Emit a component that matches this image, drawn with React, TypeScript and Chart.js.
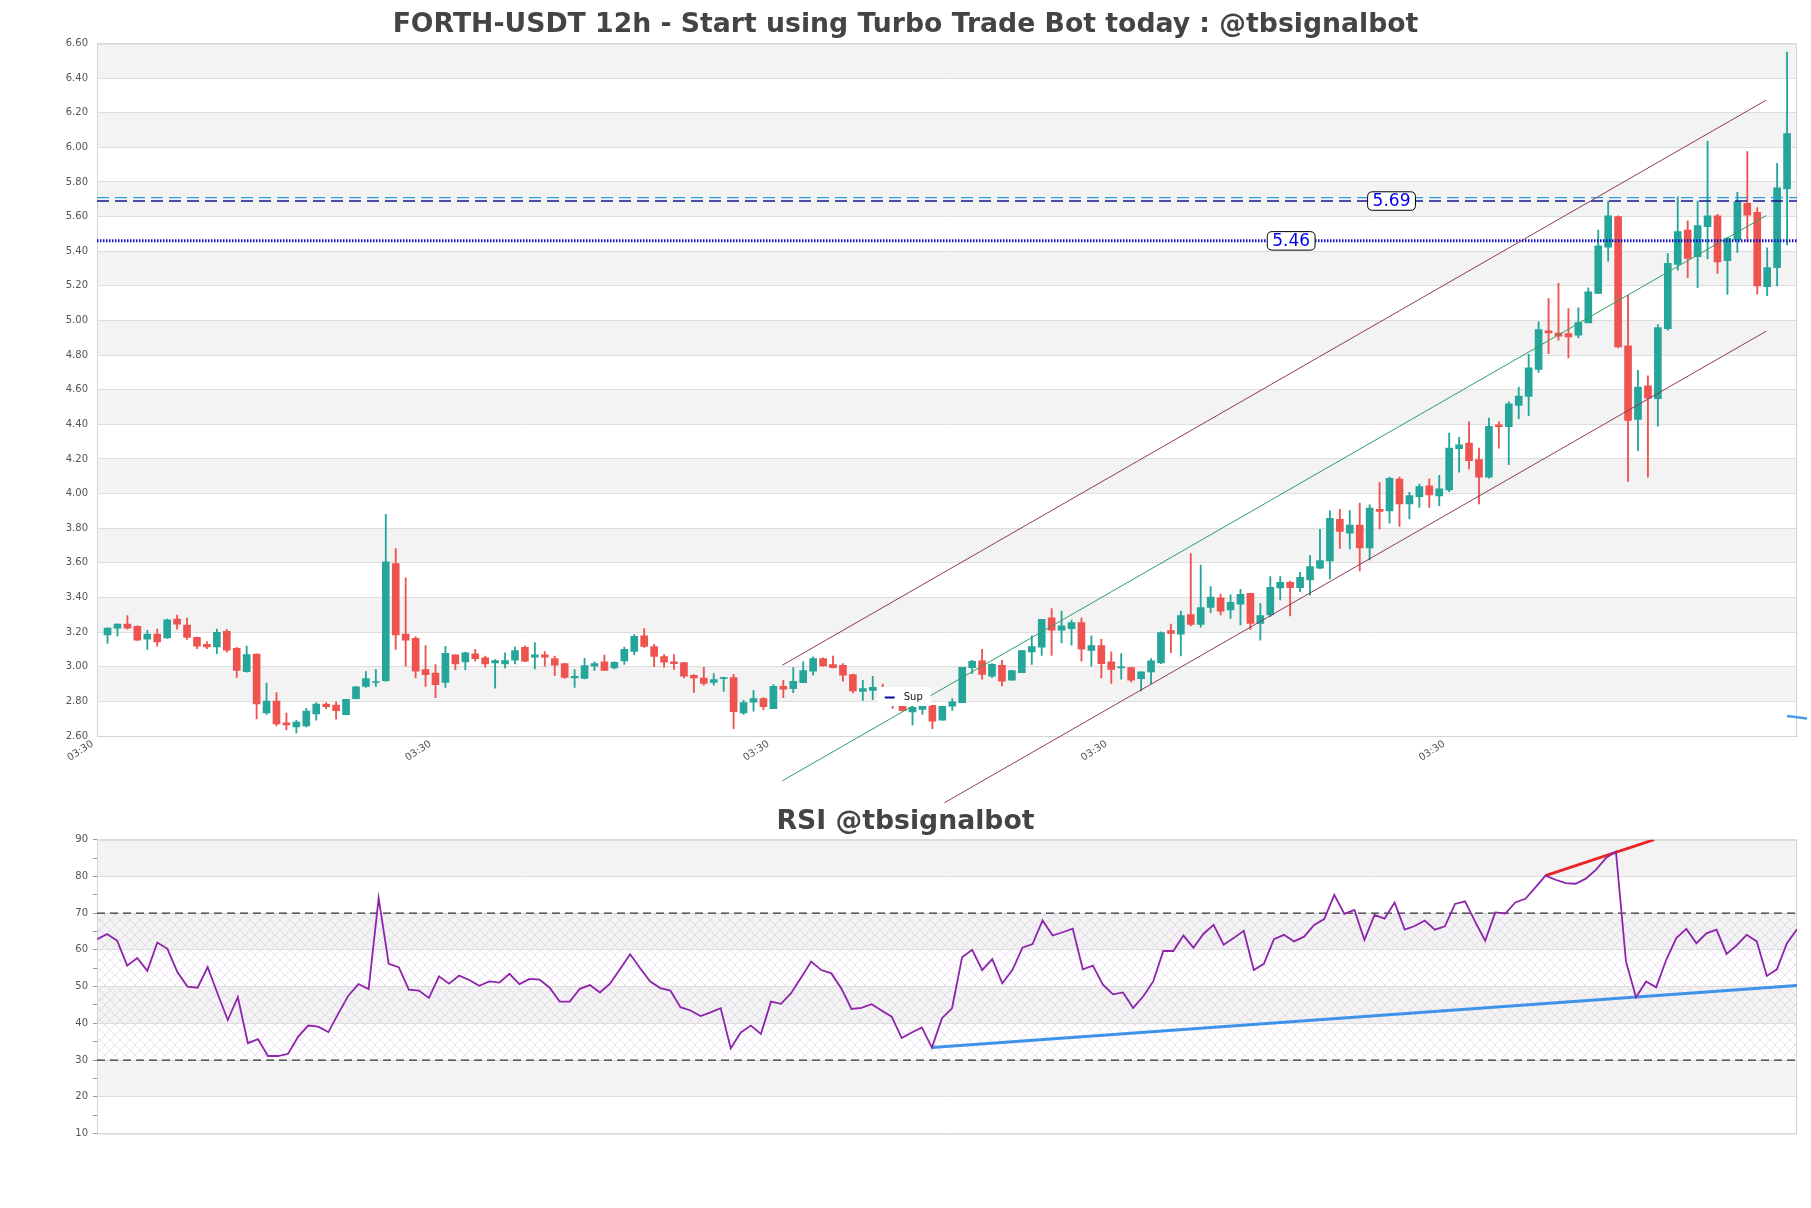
import React, { useEffect, useRef } from "react";
import { Chart, registerables } from "chart.js";

Chart.register(...registerables);

const TITLE = "FORTH-USDT 12h - Start using Turbo Trade Bot today : @tbsignalbot";
const RSI_TITLE = "RSI @tbsignalbot";

const opens = [3.184,3.223,3.246,3.234,3.160,3.188,3.166,3.275,3.240,3.170,
3.129,3.114,3.205,3.106,2.972,3.073,2.734,2.802,2.676,2.653,
2.658,2.728,2.785,2.779,2.723,2.816,2.886,2.909,2.919,3.596,
3.188,3.164,2.983,2.964,2.909,3.069,3.028,3.075,3.051,3.022,
3.016,3.038,3.112,3.055,3.069,3.047,3.018,2.935,2.933,3.003,
3.028,2.993,3.033,3.089,3.178,3.116,3.059,3.028,3.024,2.951,
2.935,2.910,2.931,2.937,2.733,2.795,2.816,2.758,2.887,2.874,
2.908,2.974,3.047,3.012,3.008,2.955,2.858,2.864,2.878,2.862,
2.773,2.739,2.754,2.777,2.691,2.773,2.793,2.995,3.034,2.945,
3.008,2.922,2.966,3.086,3.113,3.282,3.211,3.220,3.255,3.095,
3.122,3.028,2.993,2.995,2.931,2.970,3.022,3.209,3.188,3.301,
3.244,3.342,3.398,3.328,3.362,3.424,3.251,3.299,3.455,3.488,
3.457,3.501,3.569,3.611,3.852,3.771,3.818,3.686,3.910,3.900,
4.084,3.941,3.983,4.045,3.987,4.022,4.259,4.292,4.196,4.095,
4.398,4.387,4.510,4.562,4.718,4.940,4.928,4.925,4.915,4.986,
5.156,5.424,5.600,4.853,4.429,4.622,4.549,4.953,5.324,5.523,
5.368,5.542,5.605,5.345,5.465,5.677,5.625,5.195,5.305,5.760];

const closes = [3.223,3.246,3.223,3.154,3.188,3.143,3.271,3.246,3.170,3.119,
3.114,3.199,3.096,2.979,3.071,2.785,2.802,2.670,2.664,2.680,
2.744,2.785,2.769,2.746,2.812,2.884,2.931,2.913,3.606,3.184,
3.154,2.974,2.954,2.896,3.077,3.016,3.081,3.046,3.016,3.036,
3.036,3.094,3.032,3.069,3.055,3.009,2.939,2.944,3.007,3.018,
2.979,3.026,3.101,3.176,3.118,3.060,3.026,3.018,2.945,2.935,
2.903,2.926,2.937,2.741,2.793,2.816,2.770,2.887,2.870,2.916,
2.978,3.047,3.005,2.995,2.951,2.860,2.874,2.881,2.862,2.780,
2.746,2.766,2.777,2.685,2.771,2.797,2.997,3.032,2.955,3.014,
2.916,2.978,3.093,3.116,3.274,3.211,3.236,3.255,3.101,3.122,
3.018,2.985,2.999,2.922,2.970,3.034,3.197,3.193,3.296,3.244,
3.342,3.403,3.321,3.372,3.418,3.251,3.295,3.459,3.488,3.457,
3.517,3.578,3.613,3.858,3.781,3.818,3.686,3.916,3.897,4.089,
3.941,3.989,4.041,3.993,4.028,4.263,4.282,4.190,4.095,4.388,
4.387,4.518,4.564,4.726,4.948,4.928,4.909,4.905,4.988,5.166,
5.432,5.605,4.847,4.423,4.616,4.552,4.959,5.330,5.513,5.359,
5.548,5.605,5.339,5.474,5.686,5.609,5.200,5.305,5.767,6.080];

const highs = [3.225,3.248,3.295,3.236,3.211,3.217,3.275,3.298,3.281,3.172,
3.145,3.217,3.215,3.112,3.119,3.075,2.905,2.851,2.732,2.691,
2.760,2.793,2.793,2.798,2.812,2.886,2.972,2.983,3.880,3.683,
3.514,3.174,3.123,3.012,3.118,3.069,3.085,3.100,3.061,3.042,
3.081,3.114,3.121,3.139,3.088,3.061,3.020,2.983,3.048,3.028,
3.067,3.028,3.114,3.186,3.220,3.130,3.070,3.070,3.026,2.955,
2.997,2.960,2.941,2.956,2.806,2.864,2.822,2.897,2.922,2.995,
3.028,3.057,3.051,3.062,3.018,2.957,2.922,2.945,2.900,2.870,
2.777,2.771,2.777,2.777,2.771,2.816,2.997,3.037,3.101,3.018,
3.037,2.978,3.093,3.178,3.274,3.336,3.321,3.269,3.282,3.178,
3.159,3.086,3.076,2.995,2.970,3.047,3.201,3.247,3.321,3.654,
3.587,3.463,3.420,3.415,3.447,3.424,3.366,3.521,3.521,3.495,
3.546,3.642,3.794,3.900,3.910,3.902,3.945,3.935,4.064,4.095,
4.095,4.007,4.055,4.086,4.105,4.350,4.325,4.414,4.263,4.437,
4.414,4.530,4.616,4.805,4.992,5.127,5.214,5.069,5.073,5.189,
5.522,5.690,5.605,5.146,4.712,4.680,4.977,5.387,5.715,5.575,
5.690,6.037,5.613,5.480,5.740,5.976,5.652,5.420,5.908,6.550];

const lows = [3.135,3.178,3.217,3.152,3.100,3.119,3.164,3.217,3.158,3.104,
3.104,3.075,3.084,2.939,2.968,2.699,2.724,2.658,2.635,2.618,
2.653,2.691,2.756,2.697,2.723,2.814,2.880,2.886,2.915,3.100,
3.003,2.935,2.886,2.822,2.880,2.983,2.983,3.032,2.997,2.876,
2.993,3.016,3.030,2.987,3.003,2.950,2.933,2.880,2.929,2.979,
2.979,2.987,3.014,3.070,3.111,3.001,2.997,2.985,2.935,2.852,
2.893,2.893,2.858,2.642,2.725,2.743,2.752,2.758,2.822,2.850,
2.908,2.951,3.003,2.993,2.916,2.849,2.806,2.810,2.840,2.760,
2.743,2.662,2.725,2.642,2.691,2.748,2.793,2.960,2.928,2.937,
2.889,2.922,2.966,3.014,3.066,3.066,3.138,3.124,3.032,3.003,
2.935,2.904,2.928,2.912,2.860,2.902,3.018,3.082,3.062,3.236,
3.228,3.313,3.300,3.279,3.241,3.216,3.154,3.289,3.386,3.293,
3.434,3.414,3.565,3.507,3.684,3.681,3.553,3.617,3.796,3.829,
3.810,3.854,3.920,3.920,3.931,4.012,4.124,4.143,3.941,4.089,
4.263,4.167,4.433,4.450,4.700,4.809,4.886,4.784,4.900,4.992,
5.156,5.343,4.842,4.070,4.248,4.095,4.390,4.944,5.291,5.247,
5.189,5.355,5.272,5.150,5.393,5.455,5.152,5.143,5.200,5.436];

const rsiValues = [62.9,64.3,62.5,55.7,57.8,54.3,62.0,60.3,53.9,50.0,
49.7,55.3,48.0,40.9,47.1,34.6,35.7,31.1,31.1,31.7,
36.4,39.4,39.1,37.6,42.7,47.6,50.7,49.3,74.1,56.2,
55.3,49.2,48.9,46.9,52.8,50.8,53.0,51.8,50.2,51.4,
51.1,53.5,50.7,52.1,51.9,49.7,45.9,45.9,49.4,50.4,
48.4,50.8,54.8,58.8,55.0,51.4,49.6,48.9,44.4,43.5,
42.0,43.0,44.1,33.2,37.5,39.4,37.1,45.9,45.3,48.2,
52.5,56.8,54.5,53.6,49.5,43.9,44.2,45.2,43.5,41.8,
36.0,37.5,38.9,33.4,41.4,44.1,58.0,60.0,54.5,57.5,
50.9,54.5,60.6,61.6,68.0,63.9,64.8,65.8,54.7,55.7,
50.5,47.9,48.4,44.2,47.3,51.4,59.7,59.7,63.9,60.6,
64.4,66.8,61.4,63.2,65.2,54.5,56.2,62.9,64.1,62.3,
63.6,66.8,68.4,75.0,69.8,70.9,62.7,69.5,68.5,72.9,
65.5,66.5,68.0,65.5,66.4,72.5,73.2,67.7,62.5,70.2,
69.9,72.9,73.9,77.0,80.2,79.1,78.2,78.0,79.4,81.8,
85.0,86.8,56.8,47.1,51.4,49.8,57.3,63.2,65.7,61.8,
64.5,65.5,58.9,61.2,64.1,62.3,52.9,54.7,61.8,65.6];

const priceTicks = [2.6,2.8,3.0,3.2,3.4,3.6,3.8,4.0,4.2,4.4,4.6,4.8,5.0,5.2,5.4,5.6,5.8,6.0,6.2,6.4,6.6];
const rsiTicks = [10,15,20,25,30,35,40,45,50,55,60,65,70,75,80,85,90];
const timeTickPositions = [-1.5, 32.5, 66.5, 100.5, 134.5];
const timeTickLabels = ["03:30", "03:30", "03:30", "03:30", "03:30"];

const channelUpper = [{ x: 67.9, y: 3.009 }, { x: 166.9, y: 6.273 }];
const channelMiddle = [{ x: 67.9, y: 2.341 }, { x: 166.9, y: 5.606 }];
const channelLower = [{ x: 84.2, y: 2.214 }, { x: 166.9, y: 4.938 }];
const supSegment = [{ x: 169.0, y: 2.716 }, { x: 171.0, y: 2.701 }];

const levelLight = 5.71;
const levelNavy = 5.69;
const levelDotted = 5.46;
const levelLabels = [
  { text: "5.69", value: 5.69, at: 129.2 },
  { text: "5.46", value: 5.46, at: 119.1 },
];
const supLegendAnchor = { x: 77.5, y: 2.883, text: "Sup" };

const rsiSupport = [{ x: 83, y: 33.4 }, { x: 169, y: 50.3 }];
const rsiResistance = [{ x: 144, y: 80.2 }, { x: 154.8, y: 90 }];
const rsiUpper = 70;
const rsiLower = 30;

const X_MIN = -1.06;
const X_MAX = 170;
const GREEN = "#26a69a";
const RED = "#ef5350";
const BAND = "#f3f3f3";
const GRID = "#dedede";
const FONT = "DejaVu Sans";

const MAIN_H = 830;
const RSI_TOP = 790;
const RSI_H = 418;

const bandPlugin = {
  id: "bands",
  beforeDraw(chart: any) {
    const { ctx, chartArea } = chart;
    const ys = chart.scales.y;
    ctx.save();
    ctx.fillStyle = "#ffffff";
    ctx.fillRect(chartArea.left, chartArea.top, chartArea.right - chartArea.left, chartArea.bottom - chartArea.top);
    const vals: number[] = chart.options.bandValues;
    ctx.fillStyle = BAND;
    for (let k = 1; k < vals.length - 1; k += 2) {
      const a = ys.getPixelForValue(vals[k]);
      const b = ys.getPixelForValue(vals[k + 1]);
      ctx.fillRect(chartArea.left, Math.min(a, b), chartArea.right - chartArea.left, Math.abs(b - a));
    }
    const hatch = chart.options.hatch;
    if (hatch) {
      const a = ys.getPixelForValue(rsiUpper);
      const b = ys.getPixelForValue(rsiLower);
      ctx.fillStyle = hatch;
      ctx.fillRect(chartArea.left, a, chartArea.right - chartArea.left, b - a);
    }
    ctx.restore();
  },
  beforeDatasetsDraw(chart: any) {
    const { ctx, chartArea } = chart;
    ctx.save();
    ctx.strokeStyle = "#d4d4d4";
    ctx.lineWidth = 1;
    ctx.strokeRect(chartArea.left + 0.5, chartArea.top + 0.5, chartArea.right - chartArea.left - 1, chartArea.bottom - chartArea.top);
    ctx.restore();
  },
  afterDraw(chart: any) {
    const t = chart.options.titleSpec;
    if (!t) return;
    const { ctx } = chart;
    ctx.save();
    ctx.font = `bold ${t.size}px "${FONT}"`;
    ctx.fillStyle = "#444444";
    ctx.textAlign = "center";
    ctx.textBaseline = "middle";
    ctx.fillText(t.text, chart.width / 2, t.y);
    ctx.restore();
  },
};

function roundRect(ctx: CanvasRenderingContext2D, x: number, y: number, w: number, h: number, r: number) {
  ctx.beginPath();
  ctx.moveTo(x + r, y);
  ctx.lineTo(x + w - r, y);
  ctx.quadraticCurveTo(x + w, y, x + w, y + r);
  ctx.lineTo(x + w, y + h - r);
  ctx.quadraticCurveTo(x + w, y + h, x + w - r, y + h);
  ctx.lineTo(x + r, y + h);
  ctx.quadraticCurveTo(x, y + h, x, y + h - r);
  ctx.lineTo(x, y + r);
  ctx.quadraticCurveTo(x, y, x + r, y);
  ctx.closePath();
}

const annotationPlugin = {
  id: "annotations",
  afterDatasetsDraw(chart: any) {
    const { ctx } = chart;
    const xs = chart.scales.x;
    const ys = chart.scales.y;
    ctx.save();
    ctx.font = `17px "${FONT}"`;
    ctx.textAlign = "center";
    ctx.textBaseline = "middle";
    for (const l of levelLabels) {
      const cx = xs.getPixelForValue(l.at);
      const cy = ys.getPixelForValue(l.value);
      const w = ctx.measureText(l.text).width + 10;
      const h = 18.5;
      roundRect(ctx, cx - w / 2, cy - h / 2, w, h, 5);
      ctx.fillStyle = "#ffffff";
      ctx.fill();
      ctx.strokeStyle = "#000000";
      ctx.lineWidth = 1;
      ctx.stroke();
      ctx.fillStyle = "#0000ee";
      ctx.fillText(l.text, cx, cy + 1);
    }
    const lx = xs.getPixelForValue(supLegendAnchor.x);
    const ly = ys.getPixelForValue(supLegendAnchor.y);
    ctx.fillStyle = "#ffffff";
    ctx.fillRect(lx, ly, 53, 19);
    ctx.strokeStyle = "#0a0a9a";
    ctx.lineWidth = 2;
    ctx.beginPath();
    ctx.moveTo(lx + 7, ly + 10.5);
    ctx.lineTo(lx + 17, ly + 10.5);
    ctx.stroke();
    ctx.font = `10px "${FONT}"`;
    ctx.fillStyle = "#111111";
    ctx.textAlign = "left";
    ctx.fillText(supLegendAnchor.text, lx + 26, ly + 10);
    ctx.restore();
  },
};

function makeHatch(): CanvasPattern | string {
  const c = document.createElement("canvas");
  c.width = 10;
  c.height = 10;
  const g = c.getContext("2d");
  if (!g) return "rgba(200,170,220,0.2)";
  g.strokeStyle = "rgba(185,155,200,0.4)";
  g.lineWidth = 0.7;
  g.beginPath();
  g.moveTo(0, 0);
  g.lineTo(10, 10);
  g.moveTo(10, 0);
  g.lineTo(0, 10);
  g.stroke();
  return g.createPattern(c, "repeat") || "rgba(200,170,220,0.2)";
}

export default function App() {
  const mainRef = useRef<HTMLCanvasElement>(null);
  const rsiRef = useRef<HTMLCanvasElement>(null);

  useEffect(() => {
    if (!mainRef.current || !rsiRef.current) return;
    const idx = opens.map((_, i) => i);
    const colors = idx.map((i) => (closes[i] >= opens[i] ? GREEN : RED));
    const hLine = (v: number) => [{ x: X_MIN, y: v }, { x: X_MAX, y: v }];

    const main = new Chart(mainRef.current, {
      type: "bar",
      data: {
        datasets: [
          { type: "line", data: channelUpper, borderColor: "#8a3b5c", borderWidth: 1, pointRadius: 0, clip: false, order: 0 } as any,
          { type: "line", data: channelMiddle, borderColor: "#2e9e63", borderWidth: 1, pointRadius: 0, clip: false, order: 0 } as any,
          { type: "line", data: channelLower, borderColor: "#8a3b5c", borderWidth: 1, pointRadius: 0, clip: false, order: 0 } as any,
          { type: "line", data: hLine(levelLight), borderColor: "#2b9fe0", borderWidth: 1.3, borderDash: [12, 6], pointRadius: 0, order: 0 } as any,
          { type: "line", data: hLine(levelNavy), borderColor: "#16168f", borderWidth: 1.5, borderDash: [12, 6], pointRadius: 0, order: 0 } as any,
          { type: "line", data: hLine(levelDotted), borderColor: "#1010c8", borderWidth: 3, borderDash: [1.5, 1.5], pointRadius: 0, order: 0 } as any,
          { type: "line", data: supSegment, borderColor: "#4a9be8", borderWidth: 2.5, pointRadius: 0, clip: false, order: 0 } as any,
          {
            type: "bar",
            data: idx.map((i) => ({ x: i, y: [opens[i], closes[i]] })),
            backgroundColor: colors,
            borderWidth: 0,
            barThickness: 7,
            minBarLength: 1,
            grouped: false,
            order: 2,
          } as any,
          {
            type: "bar",
            data: idx.map((i) => ({ x: i, y: [lows[i], highs[i]] })),
            backgroundColor: colors,
            borderWidth: 0,
            barThickness: 1.2,
            grouped: false,
            order: 3,
          } as any,
        ],
      },
      options: {
        responsive: false,
        animation: false,
        bandValues: priceTicks,
        titleSpec: { text: TITLE, size: 26.7, y: 25.5 },
        layout: { padding: { left: 0, right: 14, top: 43.5, bottom: 0 } },
        plugins: {
          legend: { display: false },
          tooltip: { enabled: false },
          title: { display: false },
        },
        scales: {
          x: {
            type: "linear",
            min: X_MIN,
            max: X_MAX,
            offset: false,
            grid: { display: false, offset: false, drawTicks: false },
            border: { display: true, color: "#d4d4d4" },
            afterBuildTicks: (scale: any) => {
              scale.ticks = timeTickPositions.map((v) => ({ value: v }));
            },
            afterFit: (scale: any) => {
              scale.height = MAIN_H - 736;
            },
            ticks: {
              autoSkip: false,
              maxRotation: 33,
              minRotation: 33,
              padding: 2,
              color: "#555555",
              font: { family: FONT, size: 10 },
              callback: (_v: any, i: number) => timeTickLabels[i],
            },
          },
          y: {
            type: "linear",
            min: 2.6,
            max: 6.6,
            grid: { color: GRID, drawTicks: false },
            border: { display: true, color: "#d4d4d4" },
            afterBuildTicks: (scale: any) => {
              scale.ticks = priceTicks.map((v) => ({ value: v }));
            },
            afterFit: (scale: any) => {
              scale.width = 97;
            },
            ticks: {
              padding: 9,
              color: "#555555",
              font: { family: FONT, size: 10 },
              callback: (v: any) => Number(v).toFixed(2),
            },
          },
        },
      } as any,
      plugins: [bandPlugin, annotationPlugin],
    });

    const rsi = new Chart(rsiRef.current, {
      type: "line",
      data: {
        datasets: [
          { data: rsiValues.map((v, i) => ({ x: i, y: v })), borderColor: "#8e24aa", borderWidth: 1.8, pointRadius: 0, tension: 0, order: 0 },
          { data: rsiResistance, borderColor: "#e8262a", borderWidth: 3, pointRadius: 0, order: 1 },
          { data: rsiSupport, borderColor: "#3d93ea", borderWidth: 3, pointRadius: 0, order: 1 },
          { data: [{ x: 0, y: rsiUpper }, { x: 169, y: rsiUpper }], borderColor: "#333333", borderWidth: 1.2, borderDash: [8, 5], pointRadius: 0, order: 2 },
          { data: [{ x: 0, y: rsiLower }, { x: 169, y: rsiLower }], borderColor: "#333333", borderWidth: 1.2, borderDash: [8, 5], pointRadius: 0, order: 2 },
        ],
      },
      options: {
        responsive: false,
        animation: false,
        bandValues: rsiTicks.filter((v) => v % 10 === 0),
        hatch: makeHatch(),
        titleSpec: { text: RSI_TITLE, size: 26.7, y: 32.5 },
        layout: { padding: { left: 0, right: 14, top: 49.7, bottom: 74.5 } },
        plugins: {
          legend: { display: false },
          tooltip: { enabled: false },
          title: { display: false },
        },
        scales: {
          x: { type: "linear", min: 0, max: 169, display: false },
          y: {
            type: "linear",
            min: 10,
            max: 90,
            grid: {
              color: (c: any) => (c.tick && c.tick.value % 10 === 0 ? GRID : "rgba(0,0,0,0)"),
              tickColor: "#999999",
              tickLength: 4,
            },
            border: { display: true, color: "#d4d4d4" },
            afterBuildTicks: (scale: any) => {
              scale.ticks = rsiTicks.map((v) => ({ value: v }));
            },
            afterFit: (scale: any) => {
              scale.width = 97;
            },
            ticks: {
              padding: 5,
              color: "#555555",
              font: { family: FONT, size: 10 },
              callback: (v: any) => (Number(v) % 10 === 0 ? String(v) : ""),
            },
          },
        },
      } as any,
      plugins: [bandPlugin],
    });

    return () => {
      main.destroy();
      rsi.destroy();
    };
  }, []);

  return (
    <div style={{ position: "absolute", left: 0, top: 0, width: 1811, height: 1208, background: "#ffffff" }}>
      <canvas ref={mainRef} width={1811} height={MAIN_H} style={{ position: "absolute", left: 0, top: 0 }} />
      <canvas ref={rsiRef} width={1811} height={RSI_H} style={{ position: "absolute", left: 0, top: RSI_TOP }} />
    </div>
  );
}
